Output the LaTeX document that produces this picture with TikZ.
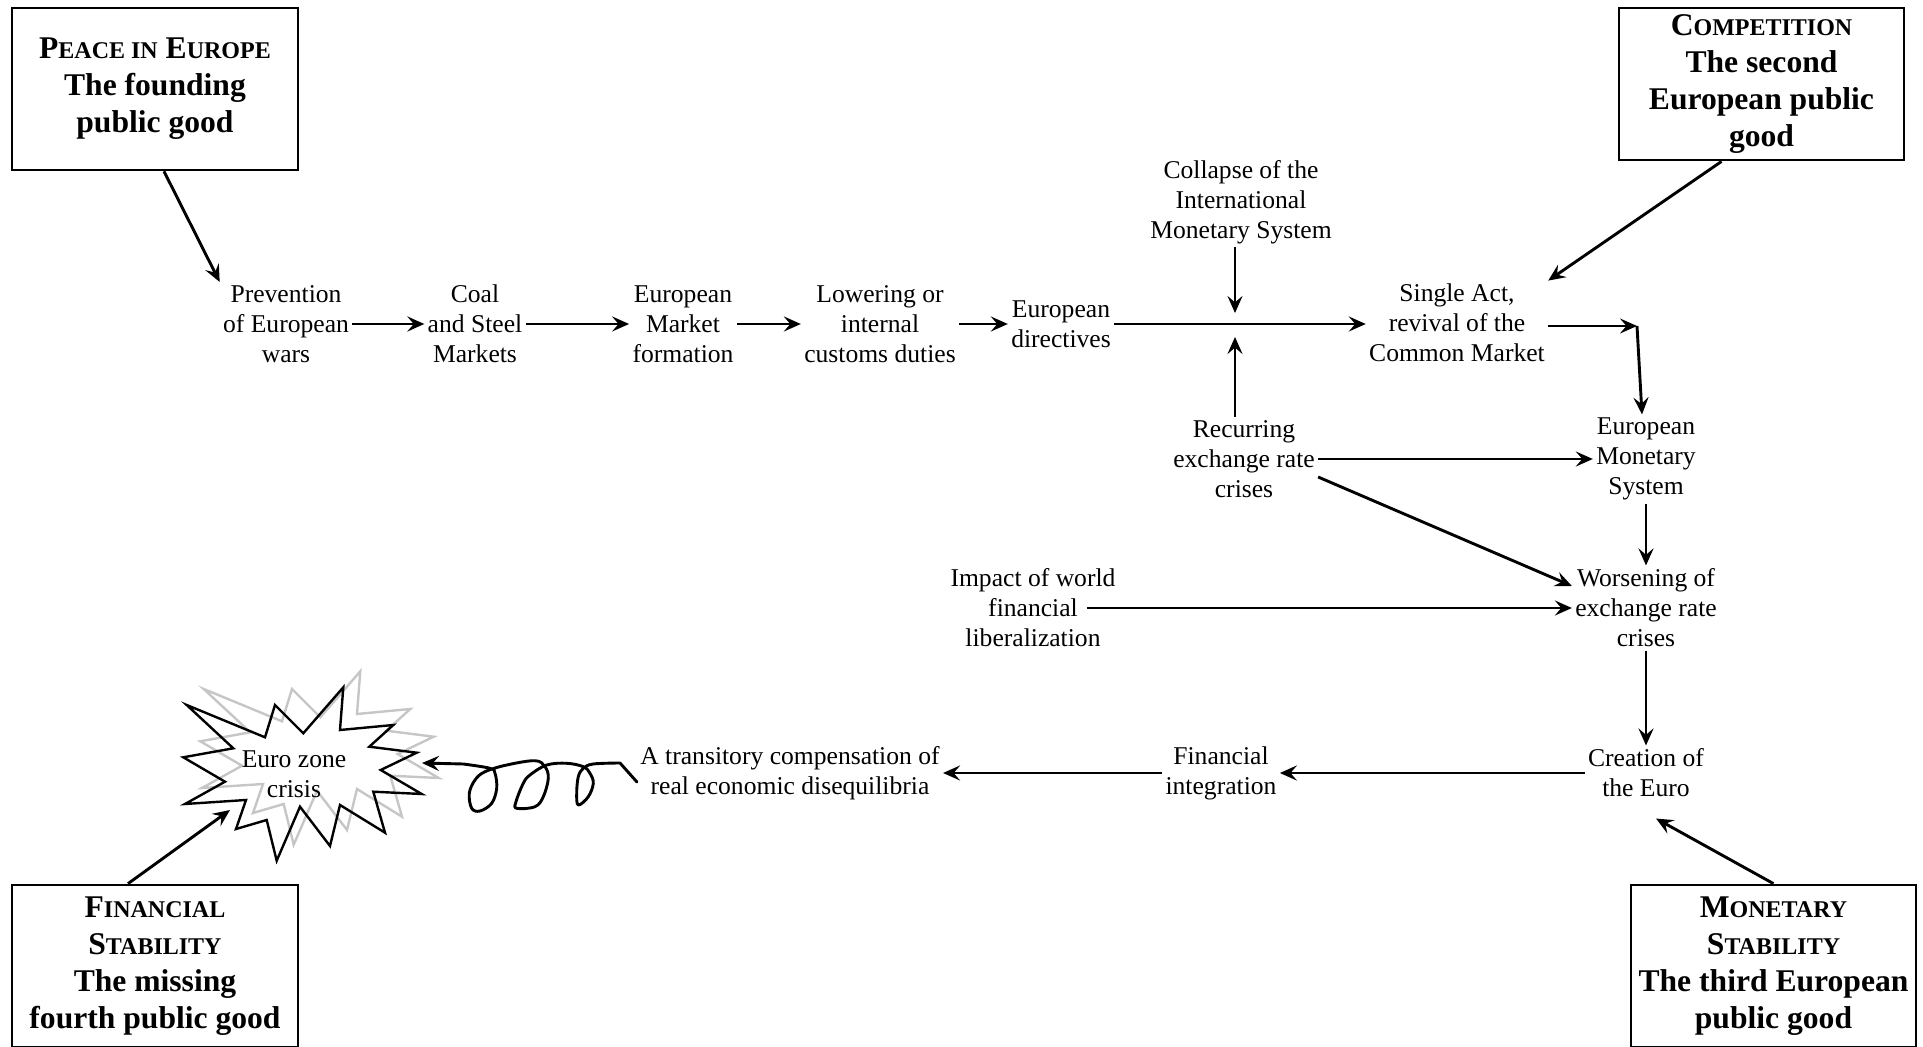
\documentclass[tikz,border=0pt]{standalone}
\usepackage{fontspec}
\setmainfont{Liberation Serif}
\usetikzlibrary{arrows.meta}
\tikzset{
  lbl/.style={align=center,inner sep=1.5pt,font=\fontsize{12.8}{15}\selectfont},
  goodbox/.style={draw,line width=1.35pt,align=center,minimum width=143pt,minimum height=81pt,
    font=\fontsize{15.8}{18.5}\selectfont\bfseries},
  arr/.style={line width=1.45pt,-{Stealth[length=8.5pt,width=7.5pt,inset=3.2pt]}},
  burst/.pic={
    \draw (186.7,705) -- (265,737.3) -- (275,705) -- (303.3,733.3) -- (343.3,687.3) -- (340,730)
      -- (393.3,725) -- (369.3,746.7) -- (416.7,752.7) -- (380.7,770) -- (421.7,794) -- (373.3,791.7)
      -- (385,832.7) -- (340,805) -- (330,846) -- (300,806.7) -- (276.7,860.7) -- (266.7,820)
      -- (236,829) -- (246,800) -- (185,804) -- (225,781.7) -- (183.3,757.3) -- (233.3,748.3) -- cycle;
  }
}
\newcommand\smc[1]{{\fontsize{12}{12}\selectfont #1}}
\begin{document}
\begin{tikzpicture}[x=0.5pt,y=-0.5pt]
\useasboundingbox (0,0) rectangle (1923,1047);
% the four public goods
\node[goodbox] (peace) at (155,89) {P\smc{EACE IN} E\smc{UROPE}\\The founding\\public good};
\node[goodbox,minimum width=142.5pt,minimum height=75pt] (compet) at (1761.5,84) {C\smc{OMPETITION}\\The second\\European public\\good};
\node[goodbox] (finstab) at (155,966) {F\smc{INANCIAL}\\S\smc{TABILITY}\\The missing\\fourth public good};
\node[goodbox,minimum width=142.5pt] (monstab) at (1773.5,966) {M\smc{ONETARY}\\S\smc{TABILITY}\\The third European\\public good};

% the chain of events
\node[lbl] (prev) at (286,324) {Prevention\\of European\\wars};
\node[lbl] (coal) at (475,324) {Coal\\and Steel\\Markets};
\node[lbl] (emf) at (683,324) {European\\Market\\formation};
\node[lbl] (lower) at (880,324) {Lowering or\\internal\\customs duties};
\node[lbl] (dir) at (1061,324) {European\\directives};
\node[lbl] (coll) at (1241,202) {Collapse of the\\International\\Monetary System};
\node[lbl] (single) at (1457,323) {Single Act,\\revival of the\\Common Market};
\node[lbl] (recur) at (1244,459) {Recurring\\exchange rate\\crises};
\node[lbl] (ems) at (1646,459) {European\\Monetary\\System};
\node[lbl] (impact) at (1033,608) {Impact of world\\financial\\liberalization};
\node[lbl] (worse) at (1646,608) {Worsening of\\exchange rate\\crises};
\node[lbl] (euro) at (1646,773) {Creation of\\the Euro};
\node[lbl] (finint) at (1221,773) {Financial\\integration};
\node[lbl] (trans) at (790,773) {A transitory compensation of\\real economic disequilibria};

% explosion
\pic[gray!45,line width=1.2pt] at (17,-16) {burst};
\pic[line width=1.2pt] at (0,0) {burst};
\node[lbl] (crisis) at (294,774) {Euro zone\\crisis};

\coordinate (junc) at (1235,326);
\coordinate (bend) at (1637,326);
\coordinate (hit) at (422,763);
\coordinate (blast) at (230,810);

\draw[arr] ([xshift=4.5pt]peace.south) -- (prev.north west);
\draw[arr] (prev) -- (coal);
\draw[arr] (coal) -- (emf);
\draw[arr] (emf) -- (lower);
\draw[arr] (lower) -- (dir);
\draw[arr] (dir.east) -- (single.west |- dir.east);
\draw[arr] (coll.south -| junc) -- ([yshift=6.5pt]junc);
\draw[arr] (recur.north -| junc) -- ([yshift=-5.5pt]junc);
\draw[arr] ([xshift=-20pt]compet.south) -- (single.north east);
\draw[arr] (single.east |- bend) -- (bend);
\draw[arr] (bend) -- ([xshift=-2pt]ems.north);
\draw[arr] (recur.east) -- (ems.west);
\draw[arr] ([yshift=-9pt]recur.east) -- ([yshift=11pt]worse.west);
\draw[arr] (ems) -- (worse);
\draw[arr] ([xshift=-16pt]impact.east) -- (worse.west);
\draw[arr] (worse) -- (euro);
\draw[arr] (euro) -- (finint);
\draw[arr] (finint) -- (trans);
\draw[arr] (monstab.north) -- ([xshift=5pt,yshift=-9pt]euro.south);
\draw[arr] ([xshift=-13.5pt]finstab.north) -- (blast);
% the spring
\draw[arr,line cap=round,line join=round] ([yshift=-4.5pt]trans.west) -- plot[smooth,tension=0.6] coordinates {
  (620,763) (593.3,764) (583.3,768.3) (578.3,776.7) (576.7,793.3) (578.3,805) (588.3,796.7)
  (593.3,783.3) (590,773.3) (583.3,766.7) (566.7,763.3) (546.7,765) (530,775) (523.3,783.3)
  (516,801.7) (516.7,808.3) (535,806.7) (543.3,796.7) (548.3,778.3) (545,766.7) (535,760.7)
  (506.7,765) (485,771.7) (475,780) (469.3,793.3) (471.7,808.3) (480,811) (491.7,803.3)
  (496.7,788.3) (495,773.3) (490,768.3) (463.3,764)} -- (hit);
\end{tikzpicture}
\end{document}
